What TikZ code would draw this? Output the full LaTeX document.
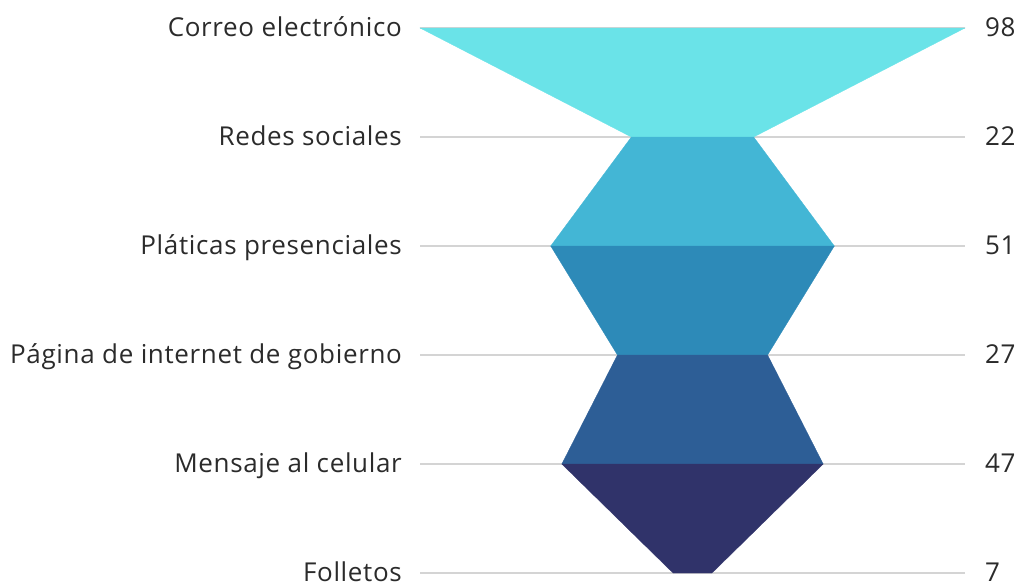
\documentclass[tikz,border=0pt]{standalone}
\usepackage{fontspec}
\setmainfont{Open Sans}[LetterSpace=2.5]

\definecolor{labelgray}{HTML}{2B2B2B}
\definecolor{gridgray}{HTML}{D4D4D4}
\definecolor{bandA}{HTML}{6AE3E8}
\definecolor{bandB}{HTML}{43B6D5}
\definecolor{bandC}{HTML}{2D8AB8}
\definecolor{bandD}{HTML}{2D5E96}
\definecolor{bandE}{HTML}{30336A}

\tikzset{
  category/.style={
    anchor=east,
    inner sep=0pt,
    text=labelgray,
    text height=21.4pt,
    text depth=4pt,
    font=\fontsize{26}{30}\selectfont,
  },
  amount/.style={
    category,
    anchor=west,
  },
  gridline/.style={
    draw=gridgray,
    line width=1.5pt,
    shorten <=18pt,
    shorten >=20pt,
  },
  band/.style={
    fill=#1,
    draw=#1,
    line width=0.3pt,
  },
}

\begin{document}
\begin{tikzpicture}[x=1pt, y=-1pt]
  \useasboundingbox (0,0) rectangle (1019,582);

  \foreach \i/\name/\n in {
    0/Correo electrónico/98,
    1/Redes sociales/22,
    2/Pláticas presenciales/51,
    3/Página de internet de gobierno/27,
    4/Mensaje al celular/47,
    5/Folletos/7} {
    \node[category] (cat\i) at (402,{28+109*\i}) {\name};
    \node[amount] (val\i) at (985,{28+109*\i}) {\n};
    \draw[gridline] (cat\i.east) -- (val\i.west);
  }

  % funnel, 545pt = 98
  \foreach \i/\a/\b/\c in {0/98/22/bandA, 1/22/51/bandB, 2/51/27/bandC,
                           3/27/47/bandD, 4/47/7/bandE} {
    \filldraw[band=\c]
      ({692.5-2.7806*\a},{28+109*\i}) -- ({692.5+2.7806*\a},{28+109*\i})
      -- ({692.5+2.7806*\b},{137+109*\i}) -- ({692.5-2.7806*\b},{137+109*\i})
      -- cycle;
  }

\end{tikzpicture}
\end{document}
